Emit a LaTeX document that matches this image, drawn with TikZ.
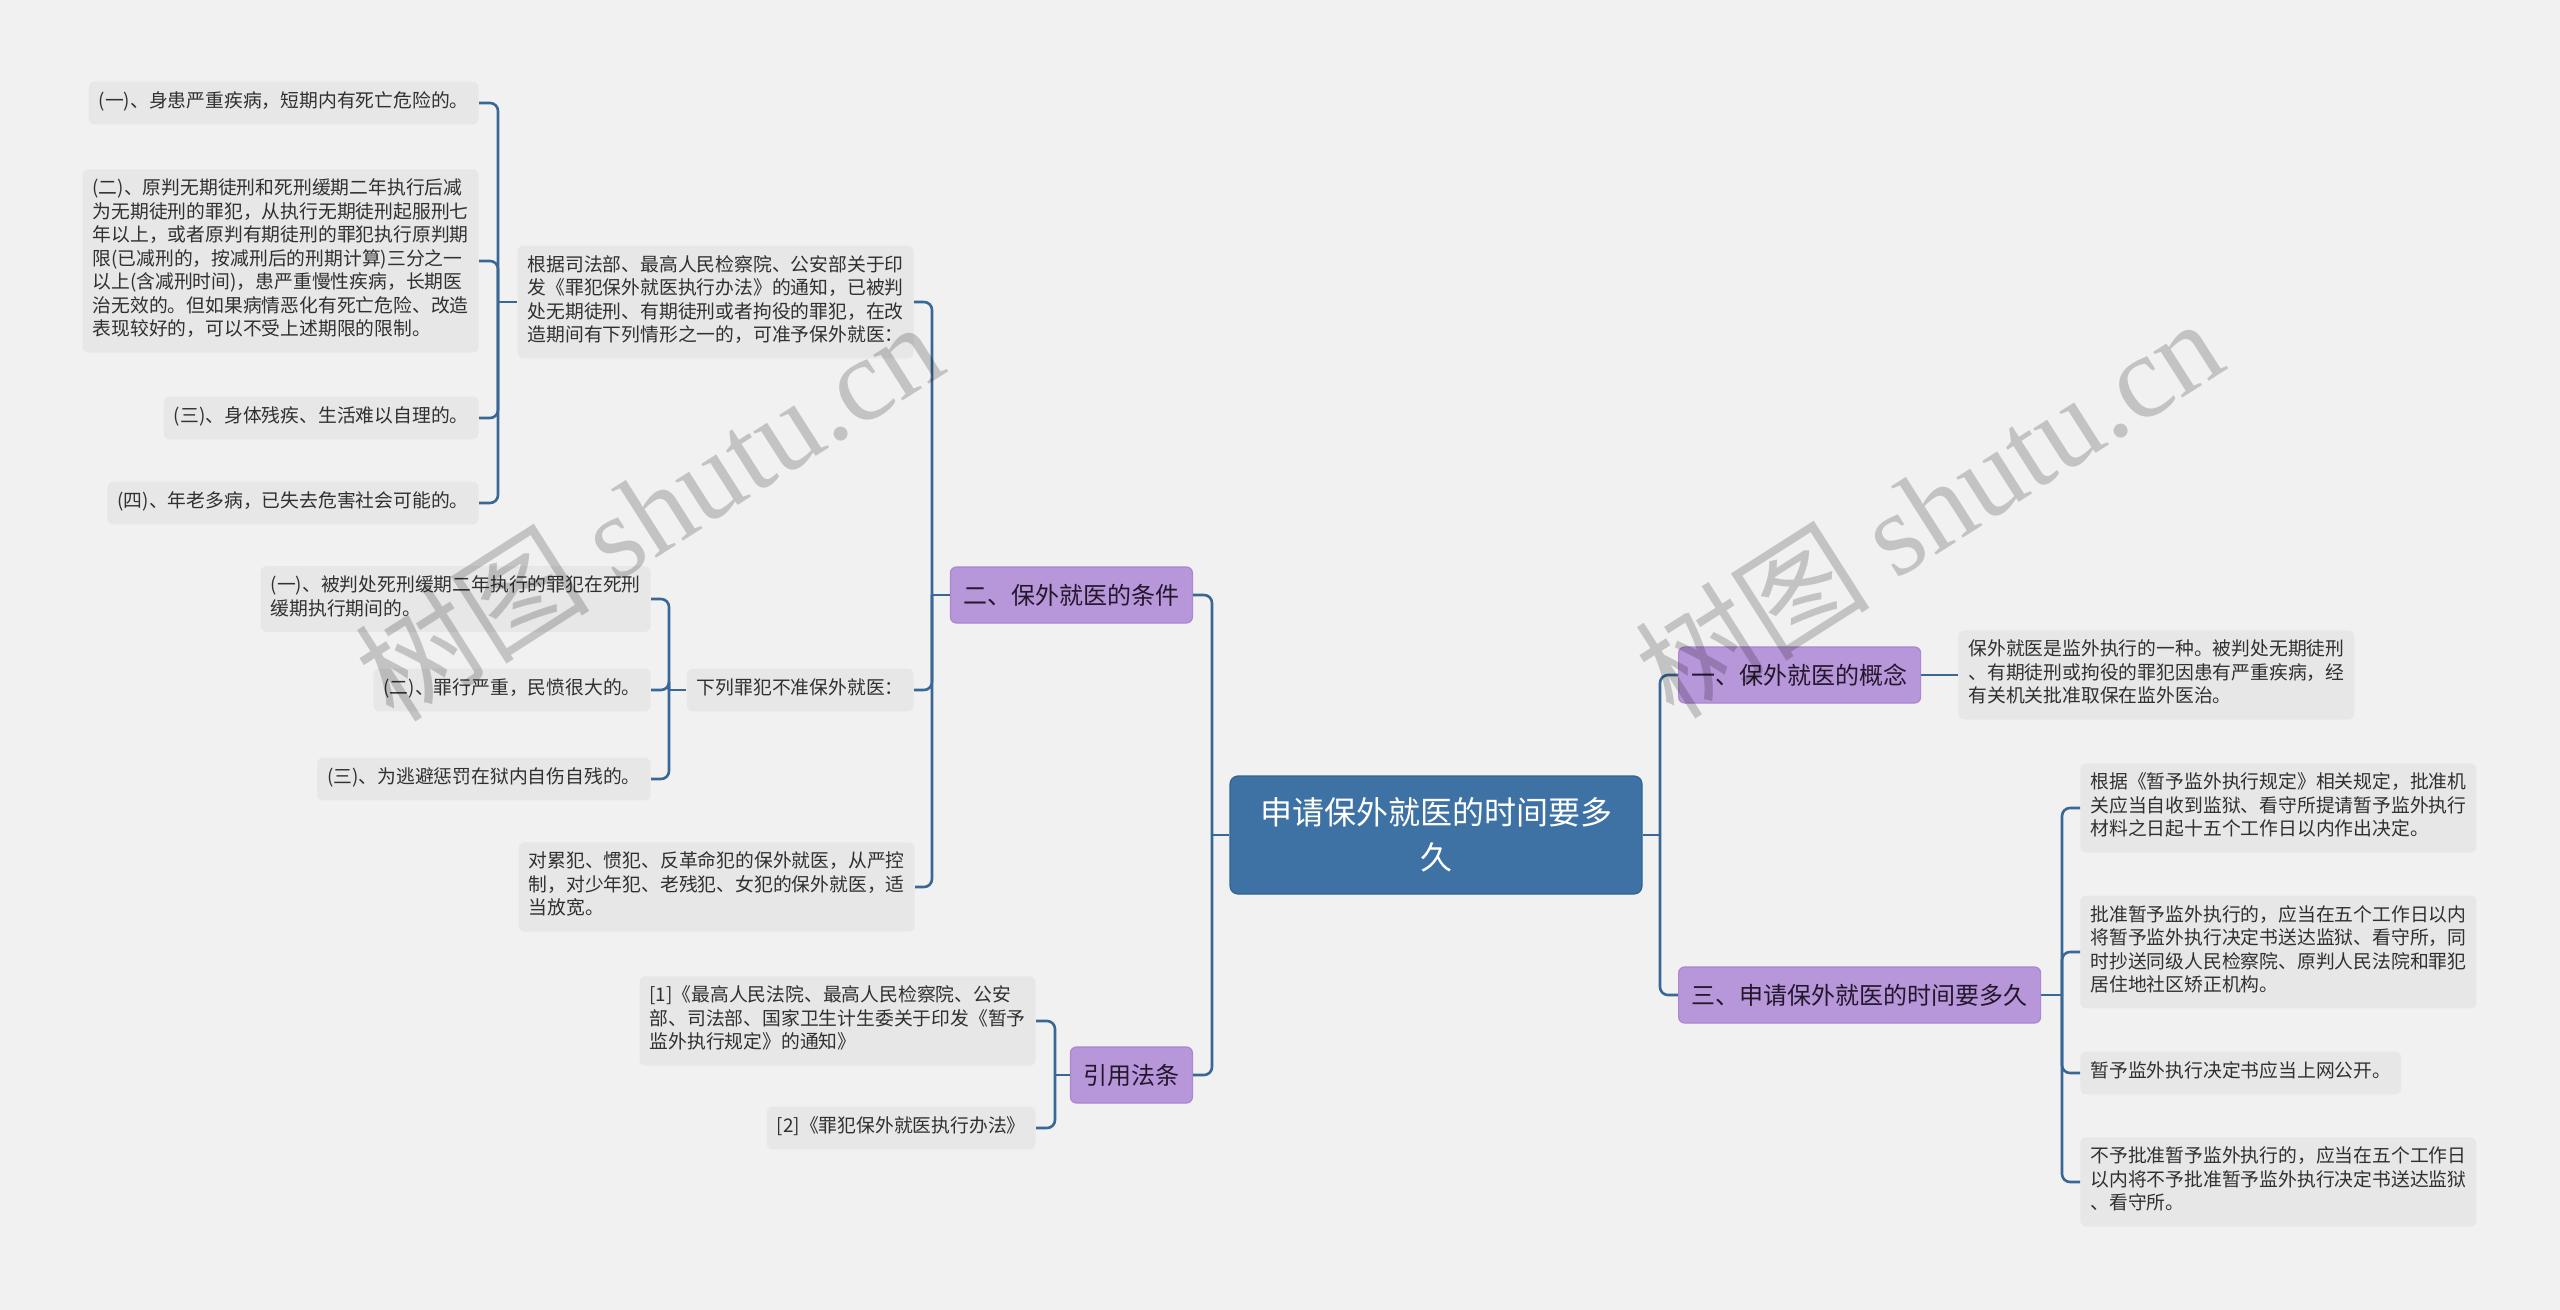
\documentclass[tikz,border=0pt]{standalone}
\usepackage{fontspec}
\setmainfont{Noto Sans CJK SC}
\newfontfamily\markfont{Liberation Serif}
\usepackage{xcolor}
\definecolor{bgcol}{RGB}{241,241,241}
\definecolor{leafcol}{RGB}{231,231,231}
\definecolor{rootcol}{RGB}{62,114,165}
\definecolor{rootline}{RGB}{52,98,145}
\definecolor{topiccol}{RGB}{184,150,218}
\definecolor{topicline}{RGB}{170,135,206}
\definecolor{topictxt}{RGB}{34,24,44}
\definecolor{linecol}{RGB}{58,104,150}
\definecolor{txtcol}{RGB}{48,48,48}
\tikzset{
    Leaf/.style = {fill=leafcol,rounded corners=3pt,inner xsep=5pt,inner ysep=4.8pt,
        align=left,text=txtcol,font=\fontsize{9.4pt}{11.75pt}\selectfont,
        execute at begin node=\strut,execute at end node=\strut},
    Topic/.style = {fill=topiccol,draw=topicline,line width=0.6pt,rounded corners=3pt,
        inner xsep=6.5pt,minimum height=28pt,text=topictxt,
        font=\fontsize{12pt}{14pt}\selectfont},
    Root/.style = {fill=rootcol,draw=rootline,line width=0.6pt,rounded corners=4pt,
        text=white,align=center,minimum width=206pt,minimum height=59pt,
        font=\fontsize{16pt}{22.5pt}\selectfont},
    Link/.style = {draw=linecol,line width=1.3pt,rounded corners=4pt},
    Mark/.style = {text=black,text opacity=0.19,inner sep=0pt,
        font=\fontsize{59pt}{59pt}\selectfont}
}
\begin{document}
\begin{tikzpicture}[x=0.5pt,y=-0.5pt]
    \useasboundingbox[fill=bgcol] (0,0) rectangle (2560,1310);
    % centre
    \node[Root] (root) at (1436,835) {申请保外就医的时间要多\\久};
    % left side
    \node[Topic,anchor=east] (cond) at (1193,595) {二、保外就医的条件};
    \node[Topic,anchor=east] (law) at (1193,1075) {引用法条};
    \node[Leaf,anchor=east] (basis) at (914,302)
        {根据司法部、最高人民检察院、公安部关于印\\发《罪犯保外就医执行办法》的通知，已被判\\处无期徒刑、有期徒刑或者拘役的罪犯，在改\\造期间有下列情形之一的，可准予保外就医：};
    \node[Leaf,anchor=east] (deny) at (914,690) {下列罪犯不准保外就医：};
    \node[Leaf,anchor=east] (strict) at (915,887)
        {对累犯、惯犯、反革命犯的保外就医，从严控\\制，对少年犯、老残犯、女犯的保外就医，适\\当放宽。};
    \node[Leaf,anchor=east] (ok1) at (479,103) {(一)、身患严重疾病，短期内有死亡危险的。};
    \node[Leaf,anchor=east] (ok2) at (479,261)
        {(二)、原判无期徒刑和死刑缓期二年执行后减\\为无期徒刑的罪犯，从执行无期徒刑起服刑七\\年以上，或者原判有期徒刑的罪犯执行原判期\\限(已减刑的，按减刑后的刑期计算)三分之一\\以上(含减刑时间)，患严重慢性疾病，长期医\\治无效的。但如果病情恶化有死亡危险、改造\\表现较好的，可以不受上述期限的限制。};
    \node[Leaf,anchor=east] (ok3) at (479,418) {(三)、身体残疾、生活难以自理的。};
    \node[Leaf,anchor=east] (ok4) at (479,503) {(四)、年老多病，已失去危害社会可能的。};
    \node[Leaf,anchor=east] (no1) at (651,599) {(一)、被判处死刑缓期二年执行的罪犯在死刑\\缓期执行期间的。};
    \node[Leaf,anchor=east] (no2) at (651,690) {(二)、罪行严重，民愤很大的。};
    \node[Leaf,anchor=east] (no3) at (651,779) {(三)、为逃避惩罚在狱内自伤自残的。};
    \node[Leaf,anchor=east] (ref1) at (1036,1021)
        {[1]《最高人民法院、最高人民检察院、公安\\部、司法部、国家卫生计生委关于印发《暂予\\监外执行规定》的通知》};
    \node[Leaf,anchor=east] (ref2) at (1036,1128) {[2]《罪犯保外就医执行办法》};
    % right side
    \node[Topic,anchor=west] (concept) at (1678,675) {一、保外就医的概念};
    \node[Topic,anchor=west] (period) at (1678,995) {三、申请保外就医的时间要多久};
    \node[Leaf,anchor=west] (def) at (1958,675)
        {保外就医是监外执行的一种。被判处无期徒刑\\、有期徒刑或拘役的罪犯因患有严重疾病，经\\有关机关批准取保在监外医治。};
    \node[Leaf,anchor=west] (t1) at (2080,808)
        {根据《暂予监外执行规定》相关规定，批准机\\关应当自收到监狱、看守所提请暂予监外执行\\材料之日起十五个工作日以内作出决定。};
    \node[Leaf,anchor=west] (t2) at (2080,952)
        {批准暂予监外执行的，应当在五个工作日以内\\将暂予监外执行决定书送达监狱、看守所，同\\时抄送同级人民检察院、原判人民法院和罪犯\\居住地社区矫正机构。};
    \node[Leaf,anchor=west] (t3) at (2080,1073) {暂予监外执行决定书应当上网公开。};
    \node[Leaf,anchor=west] (t4) at (2080,1182)
        {不予批准暂予监外执行的，应当在五个工作日\\以内将不予批准暂予监外执行决定书送达监狱\\、看守所。};
    % connectors
    \coordinate (sL) at (1212,835);
    \coordinate (sR) at (1660,835);
    \coordinate (sC) at (932,595);
    \coordinate (sB) at (498,302);
    \coordinate (sD) at (669,690);
    \coordinate (sW) at (1055,1075);
    \coordinate (sP) at (2062,995);
    \draw[Link] (root.west) -- (sL);
    \draw[Link] (root.east) -- (sR);
    \draw[Link] (cond.west) -- (sC);
    \draw[Link] (basis.west) -- (sB);
    \draw[Link] (deny.west) -- (sD);
    \draw[Link] (law.west) -- (sW);
    \draw[Link] (period.east) -- (sP);
    \draw[Link] (concept.east) -- (def.west);
    \foreach \c in {cond,law}
        {\draw[Link] (sL) |- (\c.east);}
    \foreach \c in {concept,period}
        {\draw[Link] (sR) |- (\c.west);}
    \foreach \c in {basis,deny,strict}
        {\draw[Link] (sC) |- (\c.east);}
    \foreach \c in {ok1,ok2,ok3,ok4}
        {\draw[Link] (sB) |- (\c.east);}
    \foreach \c in {no1,no2,no3}
        {\draw[Link] (sD) |- (\c.east);}
    \foreach \c in {ref1,ref2}
        {\draw[Link] (sW) |- (\c.east);}
    \foreach \c in {t1,t2,t3,t4}
        {\draw[Link] (sP) |- (\c.west);}
    % watermark
    \node[Mark,rotate=32.5] (mark1) at (648,510) {树图 {\markfont shutu.cn}};
    \node[Mark,rotate=32.5] (mark2) at (1928,507) {树图 {\markfont shutu.cn}};
\end{tikzpicture}
\end{document}
